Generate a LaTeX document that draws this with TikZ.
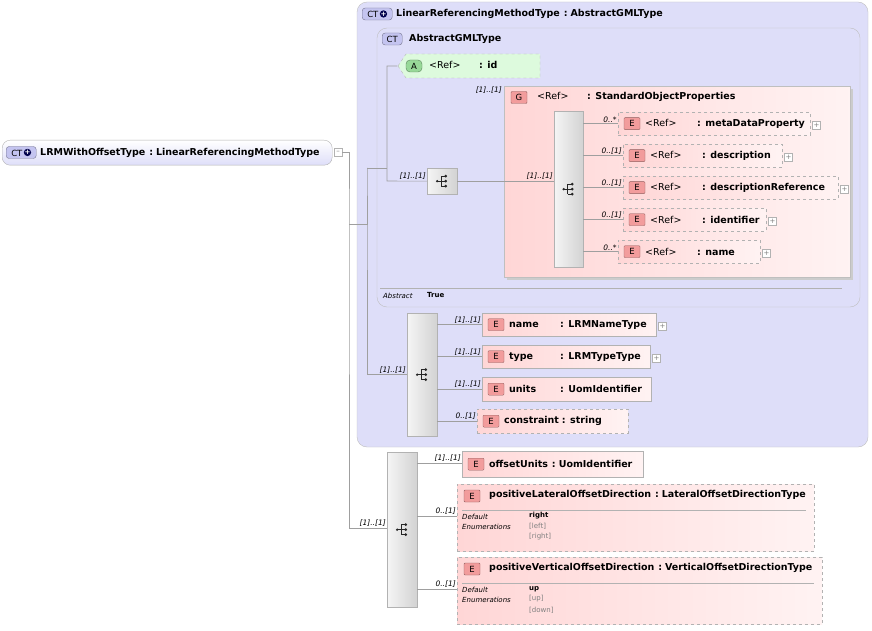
\documentclass[tikz,border=0pt]{standalone}
\usepackage{fontspec}
\setmainfont{DejaVu Sans}
\usetikzlibrary{positioning}

\definecolor{ctfill}{HTML}{DEDEF9}
\definecolor{ctline}{HTML}{A0A0B8}
\definecolor{elpink}{HTML}{FFD6D6}
\definecolor{badgered}{HTML}{F29C9C}
\definecolor{badgeblue}{HTML}{C4C4F0}
\definecolor{attgreen}{HTML}{DDFADD}
\definecolor{badgegreen}{HTML}{98D898}

\tikzset{
  conn/.style={draw=gray!75, line width=0.6pt},
  mult/.style={font=\fontsize{7.5}{8}\selectfont\itshape, inner sep=1pt},
  txt/.style={font=\fontsize{9.5}{11}\selectfont\bfseries, inner sep=0pt, anchor=west},
  small/.style={font=\fontsize{7}{8}\selectfont, inner sep=0pt, anchor=west},
  elem/.style={draw=gray!60, anchor=north west, inner sep=0pt, left color=elpink, right color=elpink!30},
  opt/.style={dashed, draw=gray!60},
  badge/.style={draw=#1!60!black, fill=#1, rounded corners=1pt, inner sep=0pt,
    minimum width=16pt, minimum height=12pt, font=\fontsize{8.5}{9}\selectfont},
  seq/.style={draw=gray!60, anchor=north west, inner sep=0pt, left color=gray!8, right color=gray!35},
  plusb/.style={draw=gray!60, fill=white, minimum size=8pt, inner sep=0pt,
    font=\fontsize{7}{7}\selectfont, text=gray},
}

\newcommand\elnode[7]{%
  \node[elem,#6,minimum width=#4,minimum height=#5] (#1) at (#2,#3) {};
  \node[badge=badgered] (#1-e) at ([xshift=14pt]#1.west) {E};
  \node[txt] at ([xshift=27pt]#1.west) {#7};}
\newcommand\reftag{\textmd{<Ref>}}
\newcommand\plusof[1]{\node[plusb, right=2pt of #1, yshift=-1.5pt] {+};}
\newcommand\seqglyph[1]{%
  \begin{scope}[shift={(#1.center)}]
    \fill[gray!30!black] (-5,0) circle (1.3);
    \draw[gray!30!black, line width=0.6pt] (-5,0) -- (-1,0) (-1,-5) -- (-1,5)
      (-1,-5) -- (3,-5) (-1,0) -- (3,0) (-1,5) -- (3,5);
    \foreach \yy in {-5,0,5} \fill[gray!30!black] (3.5,\yy) circle (1.5);
  \end{scope}}
\newcommand\ctbadge[2]{%
  \node[badge=badgeblue, minimum width=#2, anchor=west, rounded corners=3pt] at (#1) {CT\ifdim#2>20pt\,\tikz\node[circle,fill=blue!30!black,inner sep=0pt,minimum size=7pt,text=white,font=\fontsize{7}{7}\selectfont\bfseries]{+};\fi};}

\begin{document}
\begin{tikzpicture}[x=1pt,y=-1pt]
  \useasboundingbox (0,0) rectangle (872,631);

  % root type
  \node[draw=gray!60, anchor=north west, rounded corners=8pt, top color=white, bottom color=ctfill,
    minimum width=330pt, minimum height=25pt] (root) at (2,140) {};
  \ctbadge{6,152.5}{30pt}
  \node[txt] at (40,152.5) {LRMWithOffsetType\hspace{4pt}:\hspace{3pt}LinearReferencingMethodType};
  \node[plusb] (rootm) at (338,152.5) {--};

  % base types
  \draw[draw=gray!50, fill=ctfill, rounded corners=10pt] (357,2) rectangle (868,447);
  \ctbadge{362,14}{30pt}
  \node[txt] at (396,14) {LinearReferencingMethodType\hspace{4pt}:\hspace{3pt}AbstractGMLType};
  \draw[draw=gray!50, fill=ctfill, rounded corners=10pt] (377,28) rectangle (860,307);
  \ctbadge{382,39}{20pt}
  \node[txt] at (409,39) {AbstractGMLType};
  \draw[gray!60] (380,288) -- (842,288);
  \node[small, font=\fontsize{7}{8}\selectfont\itshape] at (383,296) {Abstract};
  \node[small, font=\fontsize{7}{8}\selectfont\bfseries] at (427,295) {True};

  % attribute id
  \node[inner sep=0pt] (id) at (398,66) {};
  \draw[dashed, draw=gray!60, fill=attgreen] (398,66) -- (406,54) -- (540,54) -- (540,78) -- (406,78) -- cycle;
  \node[badge=badgegreen, rounded corners=4pt] at (414,66) {A};
  \node[txt] at (429,65) {\makebox[50pt][l]{\reftag}: id};

  % sequences
  \node[seq, minimum width=30pt, minimum height=26pt] (seqa) at (427,168) {};
  \seqglyph{seqa}
  \node[seq, minimum width=30pt, minimum height=123pt] (seqb) at (407,313) {};
  \seqglyph{seqb}
  \node[seq, minimum width=30pt, minimum height=155pt] (seqc) at (387,452) {};
  \seqglyph{seqc}

  % group
  \fill[gray!40] (507,89) rectangle (853,280);
  \node[elem, draw=gray!50, minimum width=346pt, minimum height=191pt] (grp) at (504,86) {};
  \node[badge=badgered] at (519,97.5) {G};
  \node[txt] at (537,97) {\makebox[50pt][l]{\reftag}: StandardObjectProperties};
  \node[mult, anchor=north east] at ([xshift=-1pt]grp.north west) {[1]..[1]};
  \node[seq, minimum width=29pt, minimum height=156pt] (seqg) at (554,111) {};
  \seqglyph{seqg}

  \elnode{mdp}{618}{112}{192}{23}{opt}{\makebox[52pt][l]{\reftag}: metaDataProperty}
  \elnode{desc}{623}{144}{159}{23}{opt}{\makebox[52pt][l]{\reftag}: description}
  \elnode{dref}{623}{176}{215}{23}{opt}{\makebox[52pt][l]{\reftag}: descriptionReference}
  \elnode{ident}{623}{208}{143}{23}{opt}{\makebox[52pt][l]{\reftag}: identifier}
  \elnode{gname}{618}{240}{142}{23}{opt}{\makebox[52pt][l]{\reftag}: name}
  \foreach \e in {mdp,desc,dref,ident,gname} {\plusof{\e}}

  \elnode{name}{482}{313}{174}{23}{}{\makebox[51pt][l]{name}: LRMNameType}
  \elnode{type}{482}{345}{168}{23}{}{\makebox[51pt][l]{type}: LRMTypeType}
  \elnode{units}{482}{377}{169}{24}{}{\makebox[51pt][l]{units}: UomIdentifier}
  \elnode{constr}{477}{409}{151}{24}{opt}{constraint\hspace{3pt}: string}
  \plusof{name} \plusof{type}

  \elnode{offs}{462}{451}{181}{26}{}{offsetUnits\hspace{4pt}:\hspace{3pt}UomIdentifier}

  % enumerated elements
  \node[elem, opt, minimum width=357pt, minimum height=67pt] (lat) at (457,484) {};
  \node[badge=badgered] at (472,496) {E};
  \node[txt] at (489,495) {positiveLateralOffsetDirection\hspace{4pt}:\hspace{3pt}LateralOffsetDirectionType};
  \draw[gray!60] (462,510) -- (806,510);
  \node[small, font=\fontsize{7}{8}\selectfont\itshape] at (462,517) {Default};
  \node[small, font=\fontsize{7}{8}\selectfont\itshape] at (462,527) {Enumerations};
  \node[small, font=\fontsize{7}{8}\selectfont\bfseries] at (529,516) {right};
  \node[small, text=gray] at (529,526) {[left]};
  \node[small, text=gray] at (529,537) {[right]};

  \node[elem, opt, minimum width=365pt, minimum height=67pt] (vert) at (457,557) {};
  \node[badge=badgered] at (472,569) {E};
  \node[txt] at (489,568) {positiveVerticalOffsetDirection\hspace{4pt}:\hspace{3pt}VerticalOffsetDirectionType};
  \draw[gray!60] (462,583) -- (814,583);
  \node[small, font=\fontsize{7}{8}\selectfont\itshape] at (462,590) {Default};
  \node[small, font=\fontsize{7}{8}\selectfont\itshape] at (462,600) {Enumerations};
  \node[small, font=\fontsize{7}{8}\selectfont\bfseries] at (529,589) {up};
  \node[small, text=gray] at (529,599) {[up]};
  \node[small, text=gray] at (529,610) {[down]};

  % connectors
  \coordinate (ja) at (349,224);
  \coordinate (jb) at (367,168);
  \coordinate (jc) at (387,181);
  \draw[conn] (rootm.east) -| (ja) -- (ja |- 0,528) -- (seqc.west |- 0,528)
    node[mult, pos=1, above left] {[1]..[1]};
  \draw[conn] (ja) -| (jb) -- (jb |- seqb) -- (seqb.west) node[mult, pos=1, above left] {[1]..[1]};
  \draw[conn] (jb) -- (jc |- jb);
  \draw[conn] (id.west) -| (jc) -- (seqa.west) node[mult, pos=1, above left] {[1]..[1]};
  \draw[conn] (seqa.east) -- (seqg.west |- seqa) node[mult, pos=1, above left] {[1]..[1]};
  \foreach \e/\m in {mdp/0..*, desc/0..[1], dref/0..[1], ident/0..[1], gname/0..*}
    \draw[conn] (seqg.east |- \e) -- (\e.west) node[mult, pos=1, above left] {\m};
  \foreach \e/\m in {name/[1]..[1], type/[1]..[1], units/[1]..[1], constr/0..[1]}
    \draw[conn] (seqb.east |- \e) -- (\e.west) node[mult, pos=1, above left] {\m};
  \draw[conn] (seqc.east |- 0,463) -- (offs.west |- 0,463) node[mult, pos=1, above left] {[1]..[1]};
  \draw[conn] (seqc.east |- 0,516) -- (lat.west |- 0,516) node[mult, pos=1, above left] {0..[1]};
  \draw[conn] (seqc.east |- 0,589) -- (vert.west |- 0,589) node[mult, pos=1, above left] {0..[1]};
\end{tikzpicture}
\end{document}
